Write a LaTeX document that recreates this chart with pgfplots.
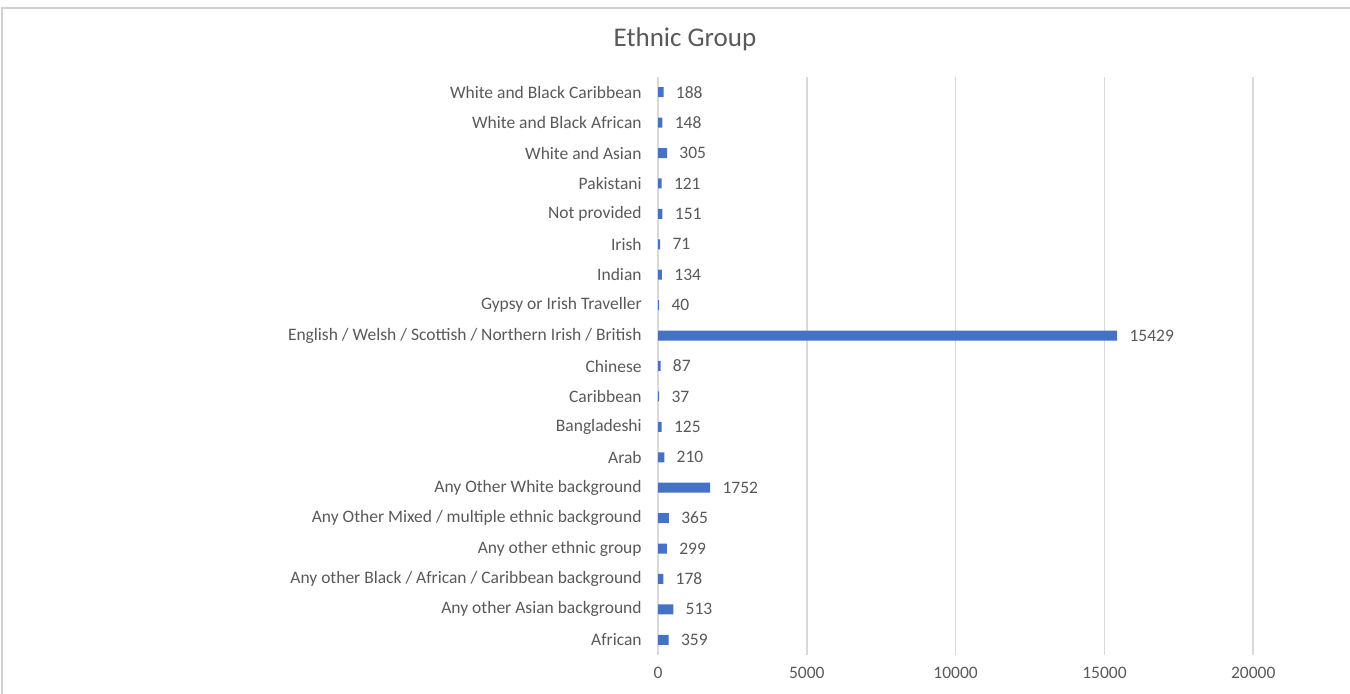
\documentclass[border=0pt]{standalone}
\usepackage{fontspec}
\setmainfont{Carlito}
\usepackage{pgfplots}
\pgfplotsset{compat=1.18}
\usepackage{pgfplotstable}
\definecolor{barblue}{HTML}{4472C4}
\definecolor{txt}{HTML}{595959}
\definecolor{gridc}{HTML}{D9D9D9}
\definecolor{framec}{HTML}{D0D0D0}

\pgfplotstableread[col sep=comma]{
idx,label,value
0,African,359
1,Any other Asian background,513
2,Any other Black / African / Caribbean background,178
3,Any other ethnic group,299
4,Any Other Mixed / multiple ethnic background,365
5,Any Other White background,1752
6,Arab,210
7,Bangladeshi,125
8,Caribbean,37
9,Chinese,87
10,English / Welsh / Scottish / Northern Irish / British,15429
11,Gypsy or Irish Traveller,40
12,Indian,134
13,Irish,71
14,Not provided,151
15,Pakistani,121
16,White and Asian,305
17,White and Black African,148
18,White and Black Caribbean,188
}\datatable

\begin{document}
\begin{tikzpicture}
\useasboundingbox (0,0) rectangle (675pt,347pt);
\draw[framec, line width=0.8pt] (1pt,-5pt) -- (1pt,343pt) -- (680pt,343pt);
\node[font=\fontsize{13.5}{16}\selectfont, text=txt] at (342.5pt,327.5pt) {Ethnic Group};
\begin{axis}[
  at={(329pt,19.5pt)}, anchor=south west,
  scale only axis, width=346pt, height=289pt,
  xbar, bar width=5pt,
  xmin=0, xmax=23250, ymin=-0.5, ymax=18.5,
  axis lines*=left,
  x axis line style={draw=none},
  y axis line style={draw=gridc, line width=0.8pt},
  xmajorgrids, major grid style={gridc, line width=0.8pt},
  xtick={0,5000,10000,15000,20000},
  scaled x ticks=false,
  ytick={0,...,18},
  yticklabels from table={\datatable}{label},
  major tick length=0pt,
  tick style={draw=none},
  /pgf/number format/.cd, fixed, 1000 sep={}, assume math mode=true,
  /pgfplots/.cd,
  ticklabel style={font=\fontsize{8.75}{10}\selectfont, text=txt},
  yticklabel style={anchor=east, inner sep=0pt, xshift=-8pt},
  xticklabel style={anchor=north, inner sep=0pt, yshift=-6pt},
  nodes near coords,
  nodes near coords style={anchor=west, inner sep=0pt, xshift=6pt,
    font=\fontsize{8.75}{10}\selectfont, text=txt},
  clip=false,
]
\addplot[fill=barblue, draw=none] table[x=value, y=idx] {\datatable};
\end{axis}
\end{tikzpicture}
\end{document}
